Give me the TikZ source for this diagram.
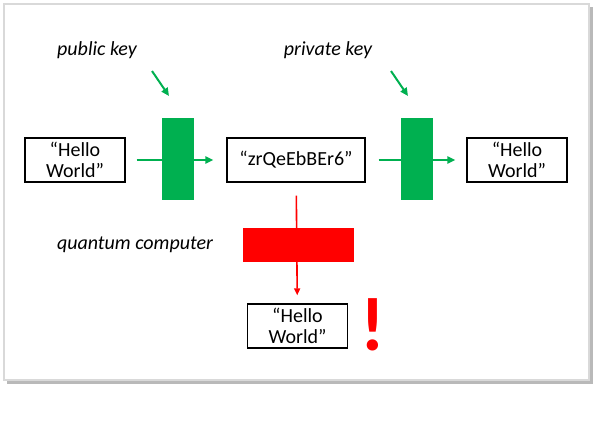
\documentclass[tikz,border=0pt]{standalone}
\usepackage{fontspec}
\setmainfont{Carlito}
\usetikzlibrary{arrows.meta}
\definecolor{keygreen}{RGB}{0,176,80}
\definecolor{qred}{RGB}{255,0,0}
\tikzset{msg/.style={draw, line width=0.7pt, align=center, inner sep=0pt, minimum height=22pt, font=\fontsize{10}{10.5}\selectfont}}
\tikzset{lbl/.style={font=\fontsize{10}{12}\selectfont\itshape}}
\tikzset{gkey/.style={fill=keygreen, inner sep=0pt, minimum width=16pt, minimum height=41pt}}
\tikzset{gline/.style={draw=keygreen, line width=1pt, -{Triangle[length=4pt,width=3.6pt]}}}
\tikzset{rline/.style={draw=qred, line width=0.8pt, -{Triangle[length=3.5pt,width=3pt]}}}

\begin{document}
\begin{tikzpicture}[x=0.5pt, y=-0.5pt]
        \useasboundingbox (0,0) rectangle (600,420);
        % frame with shadow
        \fill[gray!55] (7,7) rectangle (593,384);
        \draw[gray!30, fill=white, line width=1pt] (4,4) rectangle (589,380);

        \node[msg, minimum width=50pt] (HW1) at (75,160) {“Hello\\World”};
        \node[msg, minimum width=69pt] (ZR) at (296,160) {“zrQeEbBEr6”};
        \node[msg, minimum width=50pt] (HW2) at (517,160) {“Hello\\World”};
        \node[msg, minimum width=50pt] (HW3) at (297.5,326) {“Hello\\World”};

        \draw[gline, shorten <=5.5pt, shorten >=6.5pt] (HW1) -- (ZR);
        \draw[gline, shorten <=6.5pt, shorten >=5.5pt] (ZR) -- (HW2);
        \draw[rline, shorten <=6.5pt, shorten >=4pt] (ZR) -- (HW3);

        \node[gkey] (K1) at (178,159) {};
        \node[gkey] (K2) at (417,159) {};
        \node[fill=qred, inner sep=0pt, minimum width=55.5pt, minimum height=17pt] (QC) at (298.5,245) {};

        \node[lbl] (pub) at (97,50) {public key};
        \node[lbl] (priv) at (328,50) {private key};
        \node[lbl] (quant) at (135,245) {quantum computer};

        \coordinate (p1) at (152,71);
        \coordinate (p2) at (169,96);
        \coordinate (q1) at (391,71);
        \coordinate (q2) at (408,96);
        \draw[gline] (p1) -- (p2);
        \draw[gline] (q1) -- (q2);

        \node[anchor=base, text=qred, font=\fontsize{38}{38}\selectfont\bfseries] (bang) at (373,350) {!};
      \end{tikzpicture}
\end{document}
